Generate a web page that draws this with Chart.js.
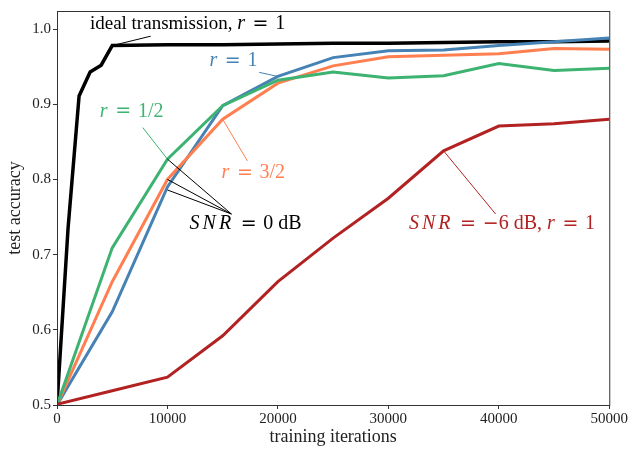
<!DOCTYPE html>
<html lang="en">
<head>
<meta charset="UTF-8">
<title>test accuracy vs training iterations</title>
<script src="https://cdn.jsdelivr.net/npm/chart.js"></script>
<style>
    html, body { margin: 0; padding: 0; background: #fff; }
    .chart-box { position: relative; width: 629px; height: 452px; }
</style>
</head>
<body>
<div class="chart-box"><canvas id="accChart"></canvas></div>
<script>
// iterations for the ideal curve (denser at the start) and for the others
const idealIters = [0, 1000, 2000, 3000, 4000, 5000, 10000, 15000, 20000, 25000, 30000, 35000, 40000, 45000, 50000];
const iters = [0, 5000, 10000, 15000, 20000, 25000, 30000, 35000, 40000, 45000, 50000];

const idealAcc = [0.50, 0.735, 0.911, 0.943, 0.952, 0.978, 0.979, 0.979, 0.980, 0.981, 0.981, 0.982, 0.983, 0.983, 0.984];
const accR1 = [0.50, 0.624, 0.790, 0.898, 0.937, 0.962, 0.971, 0.972, 0.978, 0.983, 0.988];
const accR32 = [0.50, 0.664, 0.800, 0.880, 0.928, 0.951, 0.963, 0.965, 0.967, 0.974, 0.973];
const accR12 = [0.50, 0.709, 0.827, 0.898, 0.932, 0.943, 0.935, 0.938, 0.954, 0.945, 0.948];
const accLowSnr = [0.501, 0.519, 0.537, 0.592, 0.664, 0.722, 0.775, 0.838, 0.871, 0.874, 0.880];

const xTicks = [0, 10000, 20000, 30000, 40000, 50000];
const yTicks = [0.5, 0.6, 0.7, 0.8, 0.9, 1.0];

const serif = "'Liberation Serif', 'DejaVu Serif', serif";
const symFont = "'DejaVu Sans', sans-serif";
const sp = '\u2004'; // math spacing around "="

function pts(xs, ys) {
    return xs.map((x, i) => ({ x: x, y: ys[i] }));
}

// text labels with leader lines: parts are [text, kind] (0 text, 1 math italic, 2 math upright)
const notes = [
    { parts: [['ideal transmission, ', 0], ['r', 1], [sp + '=' + sp + '1', 2]], color: '#000',
      tx: 2980, ty: 1.0065, lx: 8480, ly: 0.9905, to: [[5000, 0.978]] },
    { parts: [['r', 1], [sp + '=' + sp + '1', 2]], color: '#4682b4',
      tx: 13800, ty: 0.958, lx: 18300, ly: 0.9424, to: [[20000, 0.937]] },
    { parts: [['r', 1], [sp + '=' + sp + '1/2', 2]], color: '#3cb371',
      tx: 3880, ty: 0.8905, lx: 7760, ly: 0.869, to: [[10000, 0.827]] },
    { parts: [['r', 1], [sp + '=' + sp + '3/2', 2]], color: '#ff7f50',
      tx: 14890, ty: 0.809, lx: 17240, ly: 0.8246, to: [[15000, 0.880]] },
    { parts: [['SNR', 1], [sp + '=' + sp + '0 dB', 2]], color: '#000',
      tx: 12000, ty: 0.741, lx: 15790, ly: 0.754, to: [[10000, 0.827], [10000, 0.800], [10000, 0.786]] },
    { parts: [['SNR', 1], [sp + '=' + sp + '\u22126 dB, ', 2], ['r', 1], [sp + '=' + sp + '1', 2]], color: '#b22222',
      tx: 31860, ty: 0.741, lx: 39710, ly: 0.754, to: [[35000, 0.838]] }
];

const notesPlugin = {
    id: 'notes',
    afterDatasetsDraw(chart) {
        const ctx = chart.ctx;
        const xs = chart.scales.x, ys = chart.scales.y;
        const area = chart.chartArea;
        ctx.save();
        // frame on top and right
        ctx.strokeStyle = '#333';
        ctx.lineWidth = 1;
        ctx.strokeRect(area.left + 0.5, area.top + 0.5, area.right - area.left, area.bottom - area.top);
        notes.forEach(n => {
            ctx.strokeStyle = n.color;
            ctx.lineWidth = 1;
            const sx = xs.getPixelForValue(n.lx), sy = ys.getPixelForValue(n.ly);
            n.to.forEach(t => {
                ctx.beginPath();
                ctx.moveTo(sx, sy);
                ctx.lineTo(xs.getPixelForValue(t[0]), ys.getPixelForValue(t[1]));
                ctx.stroke();
            });
            let x = xs.getPixelForValue(n.tx);
            const y = ys.getPixelForValue(n.ty);
            ctx.fillStyle = n.color;
            ctx.textBaseline = 'middle';
            ctx.textAlign = 'left';
            const put = (s, font, spacing) => {
                ctx.font = font;
                ctx.letterSpacing = spacing;
                ctx.fillText(s, x, y);
                x += ctx.measureText(s).width;
            };
            n.parts.forEach(p => {
                if (p[1] === 1) {
                    put(p[0], 'italic 20px ' + serif, p[0].length > 1 ? '3px' : '1px');
                } else if (p[1] === 2) {
                    // symbols in a wider font, the rest in serif
                    p[0].split(/([=\u2212])/).forEach(s => {
                        if (!s) return;
                        if (s === '=' || s === '\u2212') put(s, '19px ' + symFont, '0px');
                        else put(s, '20px ' + serif, '0px');
                    });
                } else {
                    put(p[0], '19px ' + serif, '0px');
                }
            });
            ctx.letterSpacing = '0px';
        });
        ctx.restore();
    }
};

function line(data, color, width) {
    return {
        data: data,
        borderColor: color,
        borderWidth: width,
        pointRadius: 0,
        fill: false,
        tension: 0,
        showLine: true
    };
}

new Chart(document.getElementById('accChart'), {
    type: 'scatter',
    data: {
        datasets: [
            line(pts(iters, accLowSnr), '#b22222', 3),
            line(pts(iters, accR12), '#3cb371', 3),
            line(pts(iters, accR32), '#ff7f50', 3),
            line(pts(iters, accR1), '#4682b4', 3),
            line(pts(idealIters, idealAcc), '#000', 3.5)
        ]
    },
    options: {
        responsive: true,
        maintainAspectRatio: false,
        animation: false,
        layout: { padding: { top: 4, right: 18, left: 0, bottom: 0 } },
        plugins: {
            legend: { display: false },
            tooltip: { enabled: false }
        },
        scales: {
            x: {
                type: 'linear',
                min: 0,
                max: 50000,
                afterBuildTicks: s => { s.ticks = xTicks.map(v => ({ value: v })); },
                afterFit: s => { s.height = 47; },
                border: { color: '#333', width: 1 },
                grid: { drawOnChartArea: false, drawTicks: true, tickLength: 4, color: '#333' },
                ticks: { color: '#222', font: { family: serif, size: 15 }, padding: 1, maxRotation: 0,
                         callback: v => String(v) },
                title: { display: true, text: 'training iterations', color: '#222',
                         font: { family: serif, size: 18 }, padding: { top: 0 } }
            },
            y: {
                type: 'linear',
                min: 0.5,
                max: 1.024,
                afterBuildTicks: s => { s.ticks = yTicks.map(v => ({ value: v })); },
                afterFit: s => { s.width = 57; },
                border: { color: '#333', width: 1 },
                grid: { drawOnChartArea: false, drawTicks: true, tickLength: 4, color: '#333' },
                ticks: { color: '#222', font: { family: serif, size: 15 }, padding: 2,
                         callback: v => v.toFixed(1) },
                title: { display: true, text: 'test accuracy', color: '#222',
                         font: { family: serif, size: 18 }, padding: { bottom: 0 } }
            }
        }
    },
    plugins: [notesPlugin]
});
</script>
</body>
</html>
